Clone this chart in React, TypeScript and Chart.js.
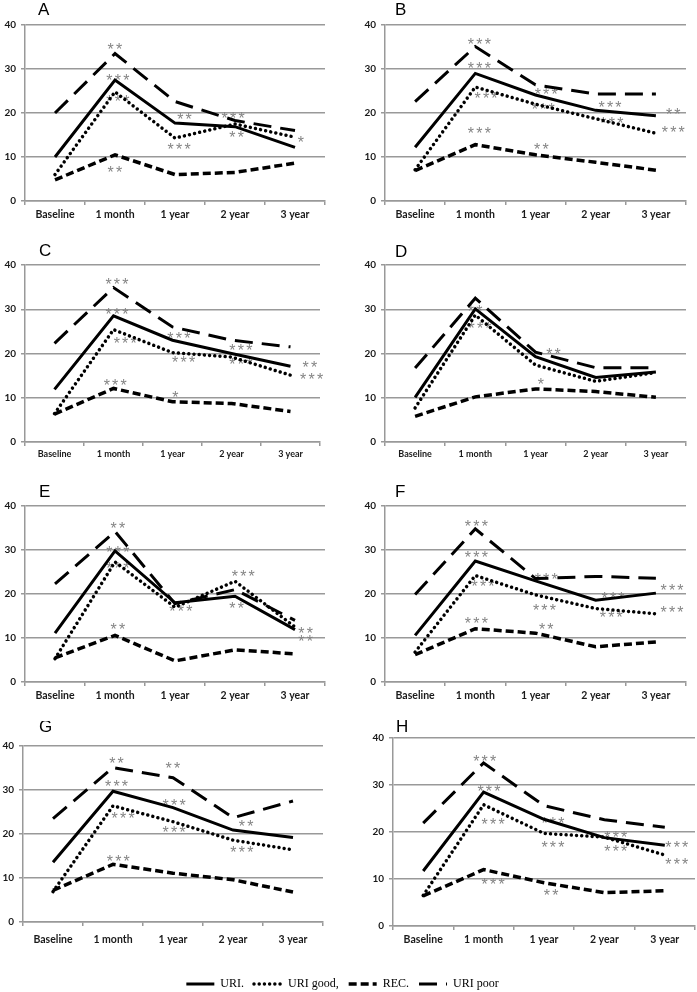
import React, { useEffect, useRef } from 'react';
import { Chart, registerables } from 'chart.js';
Chart.register(...registerables);

const categories = ['Baseline', '1 month', '1 year', '2 year', '3 year'];
const seriesNames = ['URI.', 'URI good,', 'REC.', 'URI poor'];

const A_URI = [10.0, 27.5, 17.7, 16.9, 12.2];
const A_GOOD = [6.0, 24.8, 14.3, 17.5, 14.5];
const A_REC = [4.8, 10.5, 6.0, 6.5, 8.6];
const A_POOR = [20.0, 33.5, 22.6, 18.3, 16.0];

const B_URI = [12.2, 29.0, 24.1, 20.6, 19.4];
const B_GOOD = [7.1, 25.9, 22.0, 18.7, 15.4];
const B_REC = [6.9, 12.8, 10.5, 8.8, 7.0];
const B_POOR = [22.6, 35.1, 26.4, 24.3, 24.3];

const C_URI = [11.9, 28.5, 23.0, 20.0, 17.1];
const C_GOOD = [6.4, 25.4, 20.2, 19.2, 15.1];
const C_REC = [6.3, 12.1, 9.1, 8.7, 6.9];
const C_POOR = [22.3, 34.9, 26.0, 23.0, 21.5];

const D_URI = [10.1, 30.1, 19.3, 14.6, 15.8];
const D_GOOD = [7.7, 28.7, 17.4, 13.7, 15.7];
const D_REC = [5.8, 10.2, 12.0, 11.4, 10.1];
const D_POOR = [16.7, 32.5, 20.3, 16.8, 16.8];

const E_URI = [11.1, 29.8, 18.0, 19.5, 11.9];
const E_GOOD = [5.3, 27.3, 17.0, 22.9, 12.5];
const E_REC = [5.5, 10.6, 4.8, 7.3, 6.4];
const E_POOR = [22.3, 34.2, 17.8, 21.0, 14.0];

const F_URI = [10.6, 27.5, 23.0, 18.6, 20.2];
const F_GOOD = [6.8, 24.2, 19.8, 16.7, 15.5];
const F_REC = [6.2, 12.1, 11.1, 8.0, 9.1];
const F_POOR = [19.9, 34.8, 23.5, 24.0, 23.6];

const G_URI = [13.6, 29.7, 26.0, 20.9, 19.2];
const G_GOOD = [6.9, 26.4, 22.8, 18.6, 16.4];
const G_REC = [7.2, 13.1, 11.1, 9.6, 6.8];
const G_POOR = [23.5, 35.1, 32.8, 23.7, 27.5];

const H_URI = [11.7, 28.5, 22.7, 18.8, 17.2];
const H_GOOD = [6.5, 25.8, 19.7, 18.9, 15.1];
const H_REC = [6.4, 12.0, 9.2, 7.1, 7.5];
const H_POOR = [21.9, 34.7, 25.6, 22.6, 21.0];

// significance marks: [category index, value, text]
const A_STARS = [[1, 35.2, '**'], [1.05, 28.1, '***'], [1.05, 23.5, '***'], [1, 7.2, '**'], [2.16, 19.4, '**'], [2.07, 12.6, '***'], [2.97, 19.5, '***'], [3.03, 15.2, '**'], [4.1, 14.1, '*']];
const B_STARS = [[1.07, 36.4, '***'], [1.07, 30.9, '***'], [1.18, 24.0, '***'], [1.07, 16.2, '***'], [2.18, 25.0, '***'], [2.13, 21.5, '***'], [2.1, 12.4, '**'], [3.24, 22.1, '***'], [3.27, 18.5, '***'], [4.29, 20.5, '**'], [4.29, 16.3, '***']];
const C_STARS = [[1.06, 36.4, '***'], [1.06, 29.5, '***'], [1.2, 23.0, '***'], [1.03, 13.6, '***'], [2.11, 24.2, '***'], [2.19, 18.7, '***'], [2.05, 10.8, '*'], [3.16, 21.5, '***'], [3.16, 18.3, '***'], [4.33, 17.6, '**'], [4.36, 14.9, '***']];
const D_STARS = [[1.0, 30.2, '**'], [1.08, 26.4, '***'], [2.3, 20.5, '**'], [2.09, 13.8, '*']];
const E_STARS = [[1.05, 35.6, '**'], [1.05, 30.3, '***'], [1.05, 26.7, '***'], [1.05, 12.7, '**'], [2.1, 16.8, '***'], [3.14, 24.8, '***'], [3.03, 17.4, '**'], [4.18, 11.9, '**'], [4.18, 10.1, '**']];
const F_STARS = [[1.02, 36.1, '***'], [1.02, 29.2, '***'], [1.13, 22.6, '***'], [1.02, 14.2, '***'], [2.18, 24.2, '***'], [2.15, 17.0, '***'], [2.18, 12.7, '**'], [3.29, 19.8, '***'], [3.26, 15.5, '***'], [4.27, 21.7, '***'], [4.27, 16.7, '***']];
const G_STARS = [[1.06, 36.9, '**'], [1.06, 31.7, '***'], [1.17, 24.3, '***'], [1.09, 14.5, '***'], [2.0, 35.6, '**'], [2.02, 27.3, '***'], [2.02, 21.1, '***'], [3.22, 22.5, '**'], [3.15, 16.7, '***']];
const H_STARS = [[1.02, 35.7, '***'], [1.09, 29.3, '***'], [1.16, 22.4, '***'], [1.16, 9.5, '***'], [2.15, 22.6, '***'], [2.15, 17.4, '***'], [2.12, 7.3, '**'], [3.19, 19.6, '***'], [3.19, 16.5, '***'], [4.2, 17.4, '***'], [4.2, 13.9, '***']];

const panels = [
  { letter: 'A', uri: A_URI, good: A_GOOD, rec: A_REC, poor: A_POOR, stars: A_STARS, L: 25, T: 25, R: 325, B: 201, dx: 13, dy: -10, xFont: 10.5, xPad: 3 },
  { letter: 'B', uri: B_URI, good: B_GOOD, rec: B_REC, poor: B_POOR, stars: B_STARS, L: 385, T: 25, R: 686, B: 201, dx: 10, dy: -10, xFont: 10.5, xPad: 3 },
  { letter: 'C', uri: C_URI, good: C_GOOD, rec: C_REC, poor: C_POOR, stars: C_STARS, L: 25, T: 265, R: 320, B: 442, dx: 14, dy: -9, xFont: 9, xPad: 3 },
  { letter: 'D', uri: D_URI, good: D_GOOD, rec: D_REC, poor: D_POOR, stars: D_STARS, L: 385, T: 265, R: 686, B: 442, dx: 10, dy: -8, xFont: 9, xPad: 3 },
  { letter: 'E', uri: E_URI, good: E_GOOD, rec: E_REC, poor: E_POOR, stars: E_STARS, L: 25, T: 506, R: 325, B: 682, dx: 14, dy: -9, xFont: 10.5, xPad: 3 },
  { letter: 'F', uri: F_URI, good: F_GOOD, rec: F_REC, poor: F_POOR, stars: F_STARS, L: 385, T: 506, R: 686, B: 682, dx: 10, dy: -9, xFont: 10.5, xPad: 3 },
  { letter: 'G', uri: G_URI, good: G_GOOD, rec: G_REC, poor: G_POOR, stars: G_STARS, L: 23, T: 746, R: 323, B: 922, dx: 16, dy: -14, xFont: 10.5, xPad: 7 },
  { letter: 'H', uri: H_URI, good: H_GOOD, rec: H_REC, poor: H_POOR, stars: H_STARS, L: 393, T: 738, R: 695, B: 926, dx: 3, dy: -6, xFont: 10.5, xPad: 3 },
];

const lineStyles = [
  { borderWidth: 3, borderDash: [] as number[], borderCapStyle: 'butt' },
  { borderWidth: 3.5, borderDash: [0.01, 5.2], borderCapStyle: 'round' },
  { borderWidth: 3.5, borderDash: [8, 4], borderCapStyle: 'butt' },
  { borderWidth: 3, borderDash: [18, 9], borderCapStyle: 'butt' },
];

const makeDatasets = (series: number[][]) =>
  series.map((d, i) => ({
    label: seriesNames[i],
    data: d,
    borderColor: '#000',
    backgroundColor: '#000',
    pointRadius: 0,
    tension: 0,
    fill: false,
    ...lineStyles[i],
  }));

const decorPlugin = {
  id: 'decor',
  beforeDatasetsDraw(chart: any, _a: any, opts: any) {
    const { ctx, scales } = chart;
    const x = scales.x, y = scales.y;
    const x0 = x.getPixelForValue(0);
    const step = x.getPixelForValue(1) - x0;
    ctx.save();
    ctx.fillStyle = '#858585';
    ctx.font = '16px "Liberation Sans", Arial, sans-serif';
    ctx.textAlign = 'center';
    ctx.textBaseline = 'alphabetic';
    ctx.letterSpacing = '2.2px';
    for (const [xi, v, t] of opts.stars) {
      ctx.fillText(t, x0 + xi * step + 1, y.getPixelForValue(v) + 9);
    }
    ctx.restore();
  },
  afterDraw(chart: any, _a: any, opts: any) {
    const { ctx, chartArea } = chart;
    ctx.save();
    ctx.fillStyle = '#000';
    ctx.font = '17px "Liberation Sans", Arial, sans-serif';
    ctx.textAlign = 'left';
    ctx.textBaseline = 'alphabetic';
    ctx.fillText(opts.letter, chartArea.left + opts.dx, chartArea.top + opts.dy);
    ctx.restore();
  },
};

const Y_AXIS_W = 25;
const TOP_PAD = 25;
const RIGHT_PAD = 8;
const X_AXIS_H = 26;

function Panel({ p }: { p: any }) {
  const ref = useRef<HTMLCanvasElement>(null);
  const w = p.R - p.L + Y_AXIS_W + RIGHT_PAD;
  const h = p.B - p.T + TOP_PAD + X_AXIS_H;
  useEffect(() => {
    const chart = new Chart(ref.current as HTMLCanvasElement, {
      type: 'line',
      data: { labels: categories, datasets: makeDatasets([p.uri, p.good, p.rec, p.poor]) as any },
      options: {
        animation: false,
        responsive: false,
        devicePixelRatio: 1,
        events: [],
        layout: { padding: { top: TOP_PAD, right: RIGHT_PAD, left: 0, bottom: 0 } },
        plugins: {
          legend: { display: false },
          tooltip: { enabled: false },
          decor: { stars: p.stars, letter: p.letter, dx: p.dx, dy: p.dy },
        } as any,
        scales: {
          x: {
            type: 'category',
            offset: true,
            grid: { drawOnChartArea: false, offset: true, tickLength: 4, color: '#999', lineWidth: 1.5 },
            border: { color: '#999', width: 1.5 },
            ticks: {
              font: { family: 'Lato, "Open Sans", sans-serif', weight: 'bold', size: p.xFont },
              color: '#1a1a1a',
              padding: p.xPad,
              maxRotation: 0,
              autoSkip: false,
            },
            afterFit: (s: any) => { s.height = X_AXIS_H; },
          },
          y: {
            min: 0,
            max: 40,
            ticks: {
              stepSize: 10,
              font: { family: 'Lato, "Open Sans", sans-serif', weight: 'bold', size: 10 },
              color: '#1a1a1a',
              padding: 5,
            },
            grid: { color: '#999', lineWidth: 1.5, tickLength: 4 },
            border: { color: '#999', width: 1.5 },
            afterFit: (s: any) => { s.width = Y_AXIS_W; },
          },
        },
      } as any,
      plugins: [decorPlugin],
    });
    return () => chart.destroy();
  }, []);
  return (
    <canvas
      ref={ref}
      width={w}
      height={h}
      style={{ position: 'absolute', left: p.L - Y_AXIS_W, top: p.T - TOP_PAD, width: w, height: h }}
    />
  );
}

const LEGEND_TOP = 968;
const LEGEND_H = 80;

function Legend() {
  const ref = useRef<HTMLCanvasElement>(null);
  useEffect(() => {
    const empty = [null, null] as any;
    const chart = new Chart(ref.current as HTMLCanvasElement, {
      type: 'line',
      data: { labels: ['', ''], datasets: makeDatasets([empty, empty, empty, empty]) as any },
      options: {
        animation: false,
        responsive: false,
        devicePixelRatio: 1,
        events: [],
        layout: { padding: { left: 0, right: 12, top: 0, bottom: 0 } },
        scales: { x: { display: false }, y: { display: false, min: 0, max: 1 } },
        plugins: {
          tooltip: { enabled: false },
          legend: {
            display: true,
            position: 'top',
            labels: {
              usePointStyle: true,
              pointStyle: 'line',
              pointStyleWidth: 28,
              font: { family: '"Liberation Serif", "Times New Roman", serif', size: 12 },
              color: '#000',
              padding: 10,
              generateLabels: (c: any) =>
                c.data.datasets.map((ds: any, i: number) => ({
                  text: ds.label,
                  fillStyle: 'rgba(0,0,0,0)',
                  strokeStyle: ds.borderColor,
                  lineWidth: ds.borderWidth,
                  lineDash: ds.borderDash,
                  lineCap: ds.borderCapStyle,
                  pointStyle: 'line',
                  fontColor: '#000',
                  hidden: false,
                  datasetIndex: i,
                })),
            },
          },
        },
      } as any,
    });
    return () => chart.destroy();
  }, []);
  return (
    <canvas ref={ref} width={697} height={LEGEND_H} style={{ position: 'absolute', left: 0, top: LEGEND_TOP, width: 697, height: LEGEND_H }} />
  );
}

export default function App() {
  return (
    <div style={{ position: 'absolute', left: 0, top: 0, width: 697, height: 992, overflow: 'hidden', background: '#fff' }}>
      {panels.map((p) => (
        <Panel key={p.letter} p={p} />
      ))}
      <Legend />
    </div>
  );
}
